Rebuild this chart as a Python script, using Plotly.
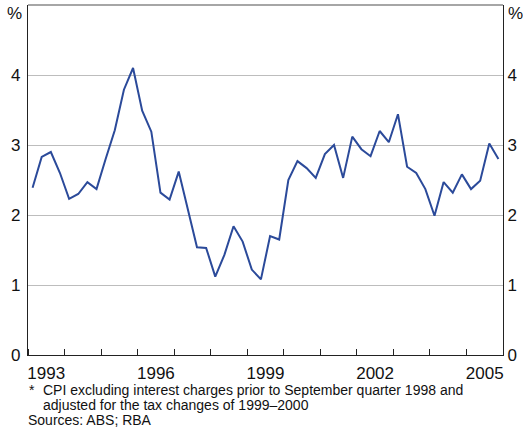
import plotly.graph_objects as go

# Quarterly data, 1993 Q1 to 2005 Q4 (year-ended %)
start_year = 1993
values = [2.39, 2.83, 2.90, 2.60, 2.23, 2.30, 2.47, 2.37,
          2.80, 3.21, 3.79, 4.10, 3.49, 3.19, 2.32, 2.22,
          2.62, 2.10, 1.54, 1.53, 1.12, 1.43, 1.84, 1.62,
          1.22, 1.08, 1.70, 1.65, 2.50, 2.77, 2.67, 2.53,
          2.87, 3.00, 2.53, 3.12, 2.94, 2.84, 3.20, 3.04,
          3.44, 2.69, 2.60, 2.37, 1.99, 2.47, 2.32, 2.58,
          2.37, 2.49, 3.02, 2.80]
x_dates = [start_year + 0.125 + 0.25 * i for i in range(len(values))]

year_labels = ["1993", "1996", "1999", "2002", "2005"]
y_ticks = [0, 1, 2, 3, 4]
footnote_lines = ["CPI excluding interest charges prior to September quarter 1998 and",
                  "adjusted for the tax changes of 1999–2000"]
sources = "Sources: ABS; RBA"

W, H = 523, 427
L, R, T, B = 28, 20, 5, 72
pw, ph = W - L - R, H - T - B

def px(x):
    return (x - L) / pw

def py(y):
    return (H - B - y) / ph

font = "Liberation Sans, Arial, sans-serif"
line_col = "#2b4a9a"
axis_col = "#222222"

fig = go.Figure()
fig.add_trace(go.Scatter(x=x_dates, y=values, mode="lines",
                         line=dict(color=line_col, width=2), showlegend=False,
                         hoverinfo="skip"))
fig.add_trace(go.Scatter(x=x_dates, y=values, mode="lines", yaxis="y2",
                         line=dict(color="rgba(0,0,0,0)", width=0), showlegend=False,
                         hoverinfo="skip"))

fig.update_layout(
    width=W, height=H,
    margin=dict(l=L, r=R, t=T, b=B, pad=0, autoexpand=False),
    paper_bgcolor="white", plot_bgcolor="white",
    font=dict(family=font, size=17, color="#111111"),
    xaxis=dict(range=[1993, 2006], automargin=False,
               tickvals=[int(y) + 0.5 for y in year_labels],
               ticktext=year_labels, ticks="", showgrid=False, zeroline=False,
               showline=True, linecolor=axis_col, linewidth=1.2,
               ticklabelstandoff=2,
               minor=dict(tickvals=list(range(1993, 2007)), ticks="inside",
                          ticklen=6, tickcolor=axis_col, tickwidth=1, showgrid=False)),
    yaxis=dict(range=[0, 5], tickvals=y_ticks, ticks="", showgrid=True, automargin=False,
               gridcolor="#bdbdbd", gridwidth=1, zeroline=False,
               showline=True, linecolor=axis_col, linewidth=1.2, ticklabelstandoff=3),
    yaxis2=dict(range=[0, 5], tickvals=y_ticks, ticks="", overlaying="y", side="right",
                automargin=False,
                showgrid=False, zeroline=False, showline=True, linecolor=axis_col,
                linewidth=1.2, ticklabelstandoff=0),
)

# top border
fig.add_shape(type="line", xref="paper", yref="paper", x0=0, x1=1, y0=1, y1=1,
              line=dict(color="#888888", width=1.5))

# % labels
fig.add_annotation(text="%", xref="paper", yref="paper", x=px(14), y=py(14),
                   showarrow=False, xanchor="center", yanchor="middle", font=dict(size=17))
fig.add_annotation(text="%", xref="paper", yref="paper", x=px(515), y=py(14),
                   showarrow=False, xanchor="center", yanchor="middle", font=dict(size=17))

# footnotes
fig.add_annotation(text="*", xref="paper", yref="paper", x=px(27), y=py(390),
                   showarrow=False, xanchor="left", yanchor="middle", font=dict(size=14))
fig.add_annotation(text=footnote_lines[0], xref="paper", yref="paper", x=px(41), y=py(390),
                   showarrow=False, xanchor="left", yanchor="middle", font=dict(size=14))
fig.add_annotation(text=footnote_lines[1], xref="paper", yref="paper", x=px(41), y=py(405),
                   showarrow=False, xanchor="left", yanchor="middle", font=dict(size=14))
fig.add_annotation(text=sources, xref="paper", yref="paper", x=px(26), y=py(420),
                   showarrow=False, xanchor="left", yanchor="middle", font=dict(size=14))

fig.write_html("out.html", config={"displayModeBar": False},
               post_script="document.body.style.margin='0';document.body.style.overflow='hidden';")
